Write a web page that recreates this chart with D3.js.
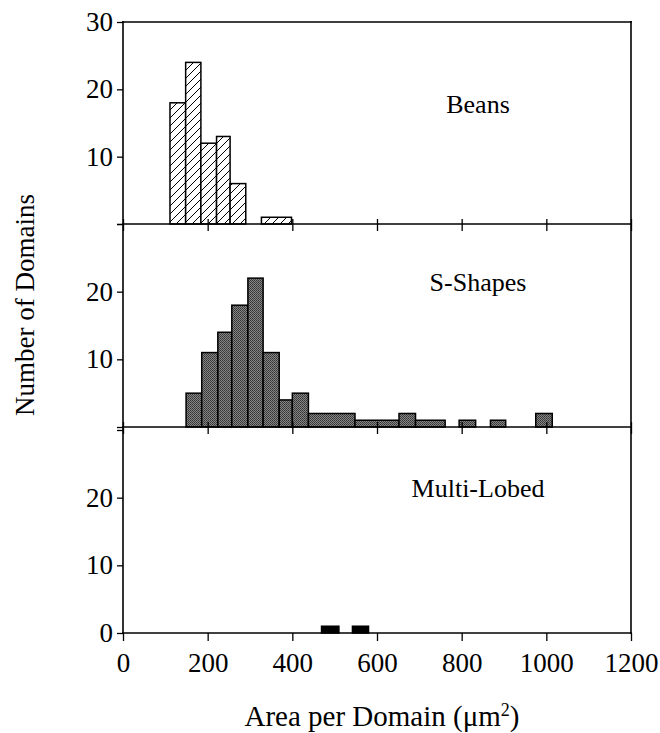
<!DOCTYPE html>
<html>
<head>
<meta charset="utf-8">
<script src="https://cdn.jsdelivr.net/npm/d3@7"></script>
<style>
  html, body { margin: 0; padding: 0; background: #fff; }
  svg { display: block; }
  text { font-family: "Liberation Serif", "Times New Roman", serif; fill: #000; }
</style>
</head>
<body>
<svg id="chart" width="660" height="733"></svg>
<script>
// ---------- data ----------
const panelNames = ["Beans", "S-Shapes", "Multi-Lobed"];

// Beans histogram (bin start, bin end, count)
const beansX0 = [111, 148, 184, 221, 253, 327];
const beansX1 = [148, 184, 221, 253, 290, 398];
const beansN  = [18, 24, 12, 13, 6, 1];

// S-Shapes histogram
const sX0 = [149, 186, 224, 257, 295, 331, 369, 400, 438, 548, 652, 691, 794, 868, 975];
const sX1 = [186, 224, 257, 295, 331, 369, 400, 438, 548, 652, 691, 761, 833, 904, 1014];
const sN  = [5, 11, 14, 18, 22, 11, 4, 5, 2, 1, 2, 1, 1, 1, 2];

// Multi-Lobed histogram
const mX0 = [469, 542];
const mX1 = [510, 580];
const mN  = [1, 1];

const xTicks = [0, 200, 400, 600, 800, 1000, 1200];
const yTicksTop = [10, 20, 30];
const yTicksMid = [10, 20];
const yTicksBot = [0, 10, 20];

const xTitle = "Area per Domain (\u03BCm";
const xTitleSup = "2";
const xTitleEnd = ")";
const yTitle = "Number of Domains";

// ---------- layout ----------
const svg = d3.select("#chart");
const left = 123, right = 631;
const x = d3.scaleLinear().domain([0, 1200]).range([left, right]);

const panels = [
  { top: 22,  base: 224, yTop: 22,  labels: yTicksTop, name: panelNames[0], x0: beansX0, x1: beansX1, n: beansN, fill: "url(#hatch)", labelY: 113 },
  { top: 224, base: 427, yTop: 224, labels: yTicksMid, name: panelNames[1], x0: sX0, x1: sX1, n: sN, fill: "url(#stipple)", labelY: 291 },
  { top: 427, base: 633, yTop: 430, labels: yTicksBot, name: panelNames[2], x0: mX0, x1: mX1, n: mN, fill: "#000", labelY: 497 }
];

// patterns
const defs = svg.append("defs");
const hatch = defs.append("pattern").attr("id", "hatch")
  .attr("patternUnits", "userSpaceOnUse").attr("width", 8).attr("height", 8);
hatch.append("rect").attr("width", 8).attr("height", 8).attr("fill", "#fff");
hatch.append("path").attr("d", "M-2,2 L2,-2 M0,8 L8,0 M6,10 L10,6")
  .attr("stroke", "#000").attr("stroke-width", 1);

const stip = defs.append("pattern").attr("id", "stipple")
  .attr("patternUnits", "userSpaceOnUse").attr("width", 2).attr("height", 2);
stip.append("rect").attr("width", 2).attr("height", 2).attr("fill", "#858585");
stip.append("rect").attr("width", 1).attr("height", 1).attr("fill", "#333");
stip.append("rect").attr("x", 1).attr("y", 1).attr("width", 1).attr("height", 1).attr("fill", "#444");

panels.forEach((p, i) => {
  const y = d3.scaleLinear().domain([0, 30]).range([p.base, p.yTop]);
  const g = svg.append("g");

  // bars
  const bins = p.n.map((n, k) => ({ x0: p.x0[k], x1: p.x1[k], n }));
  g.selectAll("rect.bar").data(bins).enter().append("rect")
    .attr("class", "bar")
    .attr("x", d => x(d.x0))
    .attr("y", d => y(d.n))
    .attr("width", d => x(d.x1) - x(d.x0))
    .attr("height", d => y(0) - y(d.n))
    .attr("fill", p.fill)
    .attr("stroke", "#000")
    .attr("stroke-width", 1.5);

  // y axis
  const yAxis = d3.axisLeft(y).tickValues([0, 10, 20, 30]).tickSize(6).tickPadding(4)
    .tickFormat(v => p.labels.includes(v) ? String(v) : "");
  const ya = g.append("g").attr("transform", `translate(${left},0)`).call(yAxis);
  ya.select(".domain").remove();
  ya.selectAll("line").attr("stroke", "#000").attr("stroke-width", 1.3);
  ya.selectAll("text").style("font-family", "Liberation Serif").style("font-size", "27px").attr("fill", "#000");

  // x ticks at bottom of panel (outward/down)
  const xb = d3.axisBottom(x).tickValues(xTicks).tickSize(i === 2 ? 8 : 7).tickFormat(i === 2 ? d3.format("d") : () => "").tickPadding(12);
  const xa = g.append("g").attr("transform", `translate(0,${p.base})`).call(xb);
  xa.select(".domain").remove();
  xa.selectAll("line").attr("stroke", "#000").attr("stroke-width", 1.3);
  xa.selectAll("text").style("font-family", "Liberation Serif").style("font-size", "27px").attr("fill", "#000");

  // x ticks upward into panel above (panel boundary crossings)
  if (i > 0) {
    const xt = d3.axisTop(x).tickValues(xTicks).tickSize(5).tickFormat(() => "");
    const xta = g.append("g").attr("transform", `translate(0,${p.top})`).call(xt);
    xta.select(".domain").remove();
    xta.selectAll("line").attr("stroke", "#000").attr("stroke-width", 1.3);
  }

  // panel label
  g.append("text").attr("x", 478).attr("y", p.labelY)
    .attr("text-anchor", "middle").style("font-size", "26px").text(p.name);
});

// frame lines
const frame = svg.append("g").attr("stroke", "#000").attr("fill", "none");
frame.append("line").attr("x1", left).attr("x2", left).attr("y1", 21).attr("y2", 634).attr("stroke-width", 1.6);
frame.append("line").attr("x1", right).attr("x2", right).attr("y1", 21).attr("y2", 634).attr("stroke-width", 1.6);
[22, 224, 427, 633].forEach(yy => {
  frame.append("line").attr("x1", left - 1).attr("x2", right + 1).attr("y1", yy).attr("y2", yy).attr("stroke-width", 1.6);
});

// axis titles
const xt = svg.append("text").attr("x", 382).attr("y", 726).attr("text-anchor", "middle").style("font-size", "29px");
xt.append("tspan").text(xTitle);
xt.append("tspan").attr("dy", -10).style("font-size", "18px").text(xTitleSup);
xt.append("tspan").attr("dy", 10).text(xTitleEnd);

svg.append("text")
  .attr("transform", "translate(34,305) rotate(-90)")
  .attr("text-anchor", "middle").style("font-size", "27px").text(yTitle);
</script>
</body>
</html>
